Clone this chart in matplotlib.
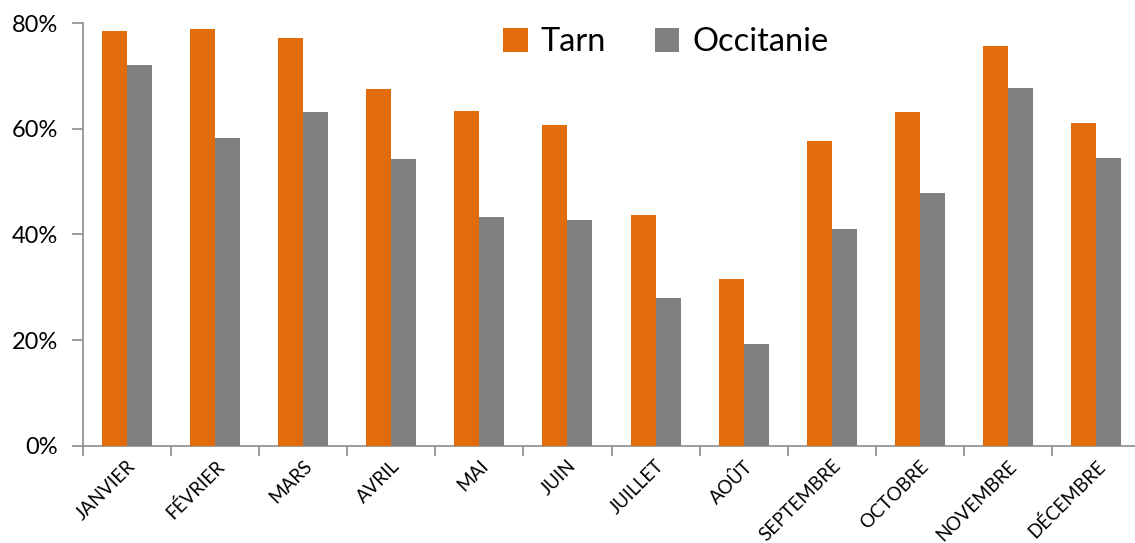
import matplotlib
matplotlib.use("Agg")
import matplotlib.pyplot as plt
import numpy as np
from matplotlib.ticker import FuncFormatter, FixedLocator

months = ["JANVIER", "FÉVRIER", "MARS", "AVRIL", "MAI", "JUIN", "JUILLET",
          "AOÛT", "SEPTEMBRE", "OCTOBRE", "NOVEMBRE", "DÉCEMBRE"]
tarn = [78.5, 78.9, 77.2, 67.5, 63.4, 60.7, 43.7, 31.6, 57.7, 63.1, 75.7, 61.1]
occitanie = [72.1, 58.3, 63.2, 54.3, 43.3, 42.7, 27.9, 19.3, 41.0, 47.8, 67.8, 54.4]
series_names = ["Tarn", "Occitanie"]
yticks = [0, 20, 40, 60, 80]

plt.rcParams['font.family'] = ['Lato', 'DejaVu Sans']

fig = plt.figure(figsize=(11.35, 5.43), dpi=100)
ax = fig.add_axes([83/1135, 97/543, (1140-83)/1135, (446-23)/543])

x = np.arange(len(months))
w = 0.284
spine_col = '#8c8c8c'
b1 = ax.bar(x - w/2, tarn, w, color='#E36C0A', label=series_names[0], zorder=3)
b2 = ax.bar(x + w/2, occitanie, w, color='#808080', label=series_names[1], zorder=3)

ax.set_xlim(-0.5, len(months) - 0.5)
ax.set_ylim(0, 80)
ax.set_yticks(yticks)
ax.yaxis.set_major_formatter(FuncFormatter(lambda v, p: f"{int(v)}%"))
ax.tick_params(axis='y', labelsize=17, length=8, width=1.2, color=spine_col, pad=10)

ax.set_xticks(x)
ax.set_xticklabels(months, rotation=45, ha='right', rotation_mode='anchor', fontsize=13.5)
ax.tick_params(axis='x', which='major', length=0, pad=8)
ax.xaxis.set_minor_locator(FixedLocator(np.arange(-0.5, len(months), 1)))
ax.tick_params(axis='x', which='minor', length=7, width=1.2, color=spine_col)

for s in ['top', 'right']:
    ax.spines[s].set_visible(False)
for s in ['left', 'bottom']:
    ax.spines[s].set_color(spine_col)
    ax.spines[s].set_linewidth(1.2)

leg = fig.legend(loc='upper left', bbox_to_anchor=(490/1135, 1 - 14/543), ncol=2,
                 frameon=False, fontsize=23.5, handlelength=0.75, handleheight=0.75,
                 handletextpad=0.4, columnspacing=1.5, borderaxespad=0)

fig.savefig("out.png", dpi=100)
